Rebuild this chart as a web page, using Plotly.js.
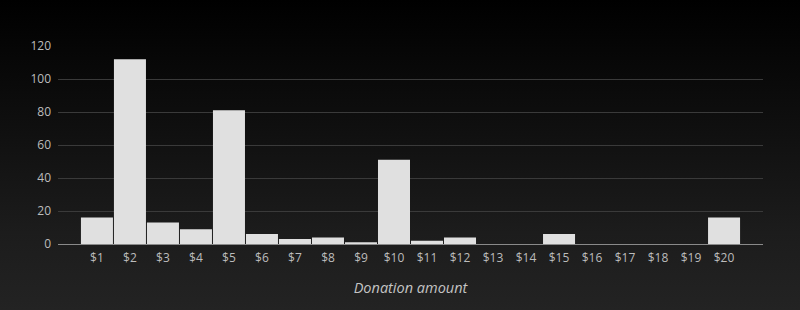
<!DOCTYPE html>
<html>
<head>
<meta charset="utf-8">
<script src="https://cdn.plot.ly/plotly-3.0.1.min.js"></script>
<style>
  html, body { margin: 0; padding: 0; }
  body {
    width: 800px; height: 310px; overflow: hidden;
    background: linear-gradient(to bottom, #000000 0%, #0d0d0d 35%, #1c1c1c 75%, #232323 100%);
  }
  #chart { width: 800px; height: 310px; }
</style>
</head>
<body>
<div id="chart"></div>
<script>
// Number of donations received at each dollar amount
const amounts = ['$1', '$2', '$3', '$4', '$5', '$6', '$7', '$8', '$9', '$10',
                 '$11', '$12', '$13', '$14', '$15', '$16', '$17', '$18', '$19', '$20'];
const counts = [16, 112, 13, 9, 81, 6, 3, 4, 1, 51,
                2, 4, 0, 0, 6, 0, 0, 0, 0, 16];
const yTicks = [0, 20, 40, 60, 80, 100, 120];

const trace = {
  type: 'bar',
  x: amounts,
  y: counts,
  marker: { color: '#e0e0e0' },
  hoverinfo: 'x+y'
};

const layout = {
  width: 800,
  height: 310,
  paper_bgcolor: 'rgba(0,0,0,0)',
  plot_bgcolor: 'rgba(0,0,0,0)',
  margin: { l: 58, r: 37, t: 46, b: 66 },
  bargap: 0.03,
  showlegend: false,
  font: { family: '"Open Sans", sans-serif', size: 12, color: '#bcbcbc' },
  xaxis: {
    type: 'category',
    range: [-1.18, 20.18],
    showgrid: false,
    showline: true,
    linecolor: '#8a8a8a',
    linewidth: 1,
    ticks: '',
    ticklabelstandoff: 3,
    tickfont: { size: 12, color: '#bcbcbc' },
    title: {
      text: 'Donation amount',
      font: { size: 14.5, color: '#c4c4c4', style: 'italic' },
      standoff: 17
    },
    fixedrange: true
  },
  yaxis: {
    range: [0, 120],
    tickvals: yTicks,
    showgrid: true,
    gridcolor: '#3a3a3a',
    gridwidth: 1,
    zeroline: false,
    showline: false,
    ticks: '',
    ticklabelstandoff: 6,
    tickfont: { size: 12, color: '#bcbcbc' },
    fixedrange: true
  }
};

Plotly.newPlot('chart', [trace], layout, { displayModeBar: false, staticPlot: true });
</script>
</body>
</html>
